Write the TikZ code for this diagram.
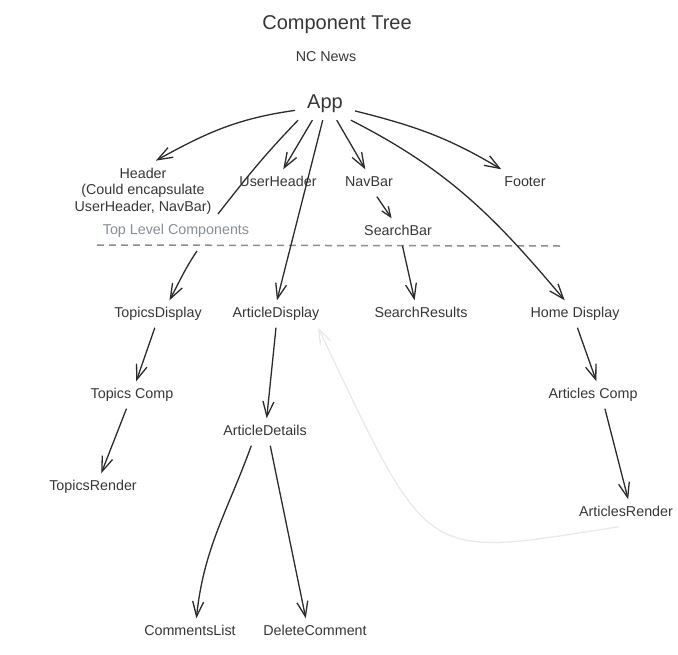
\documentclass[tikz,border=0pt]{standalone}
\usepackage{fontspec}
\setmainfont{Liberation Sans}
\usetikzlibrary{arrows.meta}
\definecolor{ink}{HTML}{363636}
\definecolor{wire}{HTML}{2B2B2B}
\definecolor{faint}{HTML}{868E96}
\definecolor{ghost}{HTML}{E5E8EC}
\tikzset{
part/.style={font=\fontsize{14.3}{16.5}\selectfont,text=ink,inner xsep=4pt,inner ysep=7pt},
comp/.style={part,text height=10pt,text depth=3pt},
root/.style={font=\fontsize{20}{24}\selectfont,text=ink,inner xsep=12pt,inner ysep=7pt},
link/.style={draw=wire,line width=1.3pt,-{Straight Barb[length=15pt,width=11pt]}},
shortlink/.style={link,-{Straight Barb[length=10pt,width=8pt]}},
stub/.style={draw=wire,line width=1.3pt},
backlink/.style={draw=ghost,line width=1.2pt,-{Straight Barb[length=15pt,width=11pt]}},
divider/.style={draw=faint,line width=1.5pt,dash pattern=on 7pt off 5pt}
}

\begin{document}
\begin{tikzpicture}[x=1pt,y=-1pt]
\useasboundingbox (0,0) rectangle (678,654);
\node[root] (title) at (337,25) {Component Tree};
\node[part] (ncnews) at (326,57) {NC News};
\node[root] (app) at (325,104) {App};
\node[part,align=center] (header) at (143,191) {Header\\(Could encapsulate\\UserHeader, NavBar)};
\node[comp] (userheader) at (278,183) {UserHeader};
\node[comp] (navbar) at (369,183) {NavBar};
\node[comp] (footer) at (525,183) {Footer};
\node[comp] (searchbar) at (398,232) {SearchBar};
\node[comp,text=faint] (toplevel) at (176,231) {Top Level Components};
\node[comp] (topicsdisplay) at (158,314) {TopicsDisplay};
\node[comp] (articledisplay) at (276,314) {ArticleDisplay};
\node[comp] (searchresults) at (421,314) {SearchResults};
\node[comp] (homedisplay) at (575,314) {Home Display};
\node[comp] (topicscomp) at (132,395) {Topics Comp};
\node[comp] (articlescomp) at (593,395) {Articles Comp};
\node[comp] (articledetails) at (265,432) {ArticleDetails};
\node[comp] (topicsrender) at (93,487) {TopicsRender};
\node[comp] (articlesrender) at (626,513) {ArticlesRender};
\node[comp] (commentslist) at (190,632) {CommentsList};
\node[comp] (deletecomment) at (315,632) {DeleteComment};
\coordinate (gapA) at (218,214);
\coordinate (gapB) at (197,251);
\coordinate (sepL) at (97,245);
\coordinate (sepR) at (561,246);
\draw[divider] (sepL) -- (sepR);
\draw[link] (app.192) to[out=188,in=29] (header.67);
\draw[stub] (app.211) to[out=226,in=52] (gapA);
\draw[link] (gapB) to[out=236,in=62] (topicsdisplay.50);
\draw[link] (app.232) -- (userheader.69);
\draw[link] (app.262) -- (articledisplay.86);
\draw[link] (app.306) -- (navbar.105);
\draw[link] (app.328) to[out=333,in=130] (homedisplay.127);
\draw[link] (app.347) to[out=346,in=149] (footer.150);
\draw[shortlink] (navbar.300) -- (searchbar.115);
\draw[link] (searchbar.288) -- (searchresults.115);
\draw[link] (topicsdisplay.257) -- (topicscomp.73);
\draw[link] (topicscomp.248) -- (topicsrender.59);
\draw[link] (articledisplay.270) -- (articledetails.83);
\draw[link] (articledetails.225) to[out=250,in=84] (commentslist.65);
\draw[link] (articledetails.291) -- (deletecomment.124);
\draw[link] (homedisplay.280) -- (articlescomp.76);
\draw[link] (articlescomp.311) -- (articlesrender.81);
\draw[backlink] (articlesrender.243) .. controls (420,558) and (431,565) .. (articledisplay.342);
\end{tikzpicture}
\end{document}
